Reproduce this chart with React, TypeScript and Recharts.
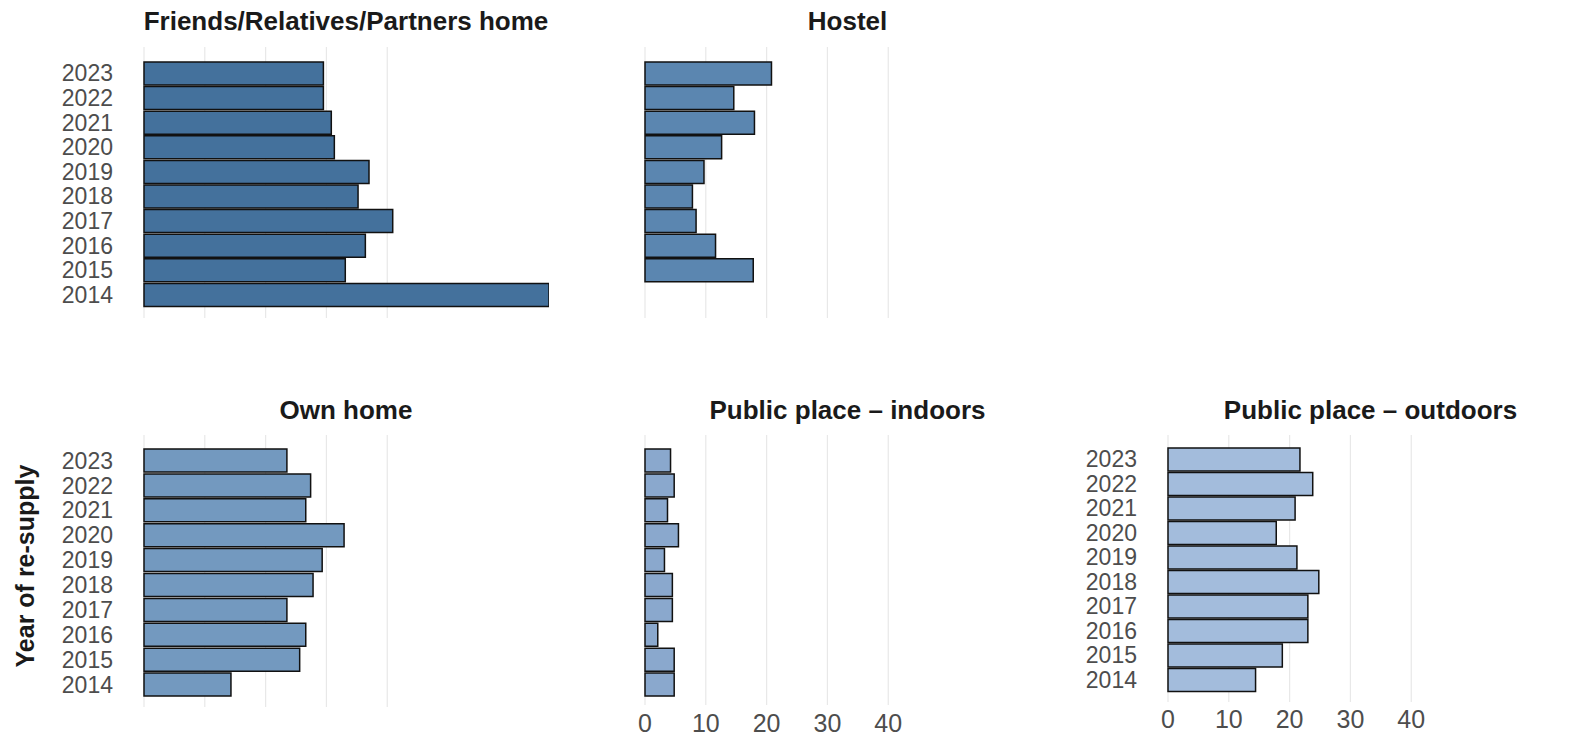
import { Bar, BarChart, CartesianGrid, XAxis, YAxis } from "recharts";

// years listed top to bottom as in the picture
const years = ["2023", "2022", "2021", "2020", "2019", "2018", "2017", "2016", "2015", "2014"];

const friendsValues = [29.5, 29.5, 30.8, 31.3, 37.0, 35.2, 40.9, 36.4, 33.1, 66.6];
const hostelValues = [20.8, 14.6, 18.0, 12.6, 9.7, 7.8, 8.4, 11.6, 17.8, null];
const ownHomeValues = [23.5, 27.4, 26.6, 32.9, 29.3, 27.8, 23.5, 26.6, 25.6, 14.3];
const indoorsValues = [4.2, 4.8, 3.7, 5.5, 3.2, 4.5, 4.5, 2.1, 4.8, 4.8];
const outdoorsValues = [21.7, 23.8, 20.9, 17.8, 21.2, 24.8, 23.0, 23.0, 18.8, 14.4];

const xTicks = [0, 10, 20, 30, 40];
const X_MAX = 66.6;

const FONT = "'Liberation Sans', Arial, sans-serif";
const PLOT_W = 405;
const Y_AXIS_W = 120;

// keeps the ticks (so the grid still gets drawn) but shows no label
const noTickLabel = () => <g />;

interface PanelProps {
  title: string;
  values: (number | null)[];
  color: string;
  x0: number;
  top: number;
  bottom: number;
  padTop: number;
  padBottom: number;
  showYears: boolean;
  showXTicks: boolean;
  tickMargin?: number;
}

function Panel({
  title,
  values,
  color,
  x0,
  top,
  bottom,
  padTop,
  padBottom,
  showYears,
  showXTicks,
  tickMargin = 9,
}: PanelProps) {
  const data = years.map((year, i) => ({ year, value: values[i] }));
  const xAxisH = showXTicks ? 40 : 0;
  const plotH = bottom - top;
  const titleTop = top < 200 ? 8 : 397;

  return (
    <>
      <div
        style={{
          position: "absolute",
          left: x0,
          width: PLOT_W,
          top: titleTop,
          textAlign: "center",
          fontFamily: FONT,
          fontWeight: "bold",
          fontSize: 26,
          lineHeight: 1,
          color: "#1a1a1a",
          whiteSpace: "nowrap",
        }}
      >
        {title}
      </div>
      <div style={{ position: "absolute", left: x0 - Y_AXIS_W, top }}>
        <BarChart
          width={Y_AXIS_W + PLOT_W}
          height={plotH + xAxisH}
          data={data}
          layout="vertical"
          margin={{ top: 0, right: 0, bottom: 0, left: 0 }}
          barCategoryGap="4%"
          style={{ fontFamily: FONT }}
        >
          {/* grid lines only at the labelled breaks */}
          <CartesianGrid
            horizontal={false}
            syncWithTicks
            stroke="#e8e8e8"
            strokeWidth={1.2}
          />
          <XAxis
            type="number"
            domain={[0, X_MAX]}
            ticks={xTicks}
            interval={0}
            axisLine={false}
            tickLine={false}
            tickSize={0}
            tickMargin={tickMargin}
            height={xAxisH}
            tick={showXTicks ? { fill: "#4d4d4d", fontSize: 25 } : noTickLabel}
          />
          <YAxis
            type="category"
            dataKey="year"
            width={Y_AXIS_W}
            interval={0}
            axisLine={false}
            tickLine={false}
            tickSize={0}
            tickMargin={31}
            padding={{ top: padTop, bottom: padBottom }}
            tick={showYears ? { fill: "#4d4d4d", fontSize: 23 } : false}
          />
          <Bar
            dataKey="value"
            fill={color}
            stroke="#111111"
            strokeWidth={1.5}
            isAnimationActive={false}
          />
        </BarChart>
      </div>
    </>
  );
}

export default function App() {
  return (
    <div
      style={{
        position: "absolute",
        left: 0,
        top: 0,
        width: 1574,
        height: 749,
        background: "#ffffff",
        overflow: "hidden",
      }}
    >
      <Panel
        title="Friends/Relatives/Partners home"
        values={friendsValues}
        color="#44719c"
        x0={143.5}
        top={47}
        bottom={318}
        padTop={14}
        padBottom={11}
        showYears
        showXTicks={false}
      />
      <Panel
        title="Hostel"
        values={hostelValues}
        color="#5b86b0"
        x0={645}
        top={47}
        bottom={318}
        padTop={14}
        padBottom={11}
        showYears={false}
        showXTicks={false}
      />
      <Panel
        title="Own home"
        values={ownHomeValues}
        color="#7399bf"
        x0={143.5}
        top={435}
        bottom={707}
        padTop={13}
        padBottom={10}
        showYears
        showXTicks={false}
      />
      <Panel
        title="Public place – indoors"
        values={indoorsValues}
        color="#8aa8cd"
        x0={645}
        top={435}
        bottom={705}
        padTop={13}
        padBottom={8}
        showYears={false}
        showXTicks
      />
      <Panel
        title="Public place – outdoors"
        values={outdoorsValues}
        color="#a3bcdc"
        x0={1168}
        top={435}
        bottom={702}
        padTop={12}
        padBottom={10}
        showYears
        showXTicks
        tickMargin={8}
      />
      <div
        style={{
          position: "absolute",
          left: 25,
          top: 566,
          transform: "translate(-50%, -50%) rotate(-90deg)",
          fontFamily: FONT,
          fontWeight: "bold",
          fontSize: 25,
          lineHeight: 1,
          color: "#1a1a1a",
          whiteSpace: "nowrap",
        }}
      >
        Year of re-supply
      </div>
    </div>
  );
}
